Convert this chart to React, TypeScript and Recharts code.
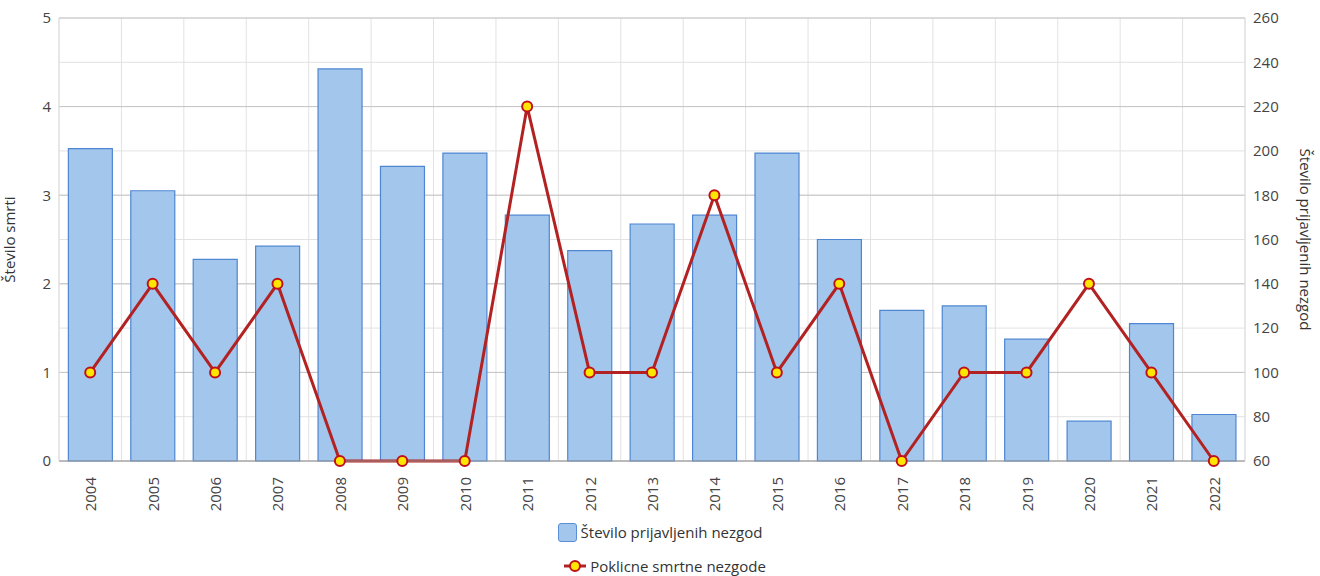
import React from 'react';
import {
  ComposedChart,
  Bar,
  Line,
  XAxis,
  YAxis,
  CartesianGrid,
  Legend,
} from 'recharts';

const years = ['2004', '2005', '2006', '2007', '2008', '2009', '2010', '2011', '2012', '2013', '2014', '2015', '2016', '2017', '2018', '2019', '2020', '2021', '2022'];
const reported = [201, 182, 151, 157, 237, 193, 199, 171, 155, 167, 171, 199, 160, 128, 130, 115, 78, 122, 81];
const deaths = [1, 2, 1, 2, 0, 0, 0, 4, 1, 1, 3, 1, 2, 0, 1, 1, 2, 1, 0];
const leftTicks = [0, 1, 2, 3, 4, 5];
const rightTicks = [60, 80, 100, 120, 140, 160, 180, 200, 220, 240, 260];

const data = years.map((year, i) => ({ year, reported: reported[i], deaths: deaths[i] }));

const font = '"Open Sans", "Noto Sans", sans-serif';
const textColor = '#444';

const YearTick = (props: any) => {
  const { x, y, payload } = props;
  return (
    <text
      x={x}
      y={y + 8}
      transform={`rotate(-90, ${x}, ${y + 8})`}
      textAnchor="end"
      dominantBaseline="central"
      fontSize={15}
      fontFamily={font}
      fill={textColor}
    >
      {payload.value}
    </text>
  );
};

const LegendContent = () => (
  <div style={{ fontFamily: font, fontSize: 15, color: '#333', display: 'flex', flexDirection: 'column', alignItems: 'center' }}>
    <div style={{ display: 'flex', alignItems: 'center', height: 22, marginTop: 10 }}>
      <span style={{ display: 'inline-block', width: 19, height: 19, background: '#A3C6EC', border: '1px solid #5A8FD6', borderRadius: 3, marginRight: 4, boxSizing: 'border-box' }} />
      <span>Število prijavljenih nezgod</span>
    </div>
    <div style={{ display: 'flex', alignItems: 'center', height: 22, marginTop: 12, marginLeft: 10 }}>
      <svg width={22} height={14} style={{ marginRight: 4 }}>
        <line x1={0} y1={7} x2={22} y2={7} stroke="#B22222" strokeWidth={3} />
        <circle cx={11} cy={7} r={5} fill="#FFE600" stroke="#C0101A" strokeWidth={2} />
      </svg>
      <span>Poklicne smrtne nezgode</span>
    </div>
  </div>
);

const boundaryLines = ({ offset }: any) => {
  const n = years.length;
  const res: number[] = [];
  for (let i = 0; i <= n; i++) res.push(offset.left + (offset.width * i) / n);
  return res;
};

export default function App() {
  return (
    <div style={{ position: 'absolute', left: 0, top: 0, width: 1320, height: 576, background: '#fff' }}>
      <ComposedChart
        width={1320}
        height={576}
        data={data}
        margin={{ top: 18, right: 0, left: 0, bottom: 0 }}
        barCategoryGap="15%"
      >
        <CartesianGrid
          yAxisId="right"
          stroke="#e2e2e2"
          vertical={true}
          verticalCoordinatesGenerator={boundaryLines}
        />
        <CartesianGrid yAxisId="left" stroke="#c4c4c4" vertical={false} />
        <XAxis
          dataKey="year"
          height={50}
          interval={0}
          tick={<YearTick />}
          tickLine={false}
          axisLine={{ stroke: '#999' }}
        />
        <YAxis
          yAxisId="left"
          orientation="left"
          width={59}
          domain={[0, 5]}
          ticks={leftTicks}
          tickLine={false}
          axisLine={{ stroke: '#ddd' }}
          tick={{ fontSize: 15, fontFamily: font, fill: textColor }}
          label={{ value: 'Število smrti', angle: -90, position: 'insideLeft', offset: 10, style: { fontSize: 15, fontFamily: font, fill: '#333', textAnchor: 'middle' } }}
        />
        <YAxis
          yAxisId="right"
          orientation="right"
          width={75}
          domain={[60, 260]}
          ticks={rightTicks}
          tickLine={false}
          axisLine={{ stroke: '#ddd' }}
          tick={{ fontSize: 15, fontFamily: font, fill: textColor, textAnchor: 'start' }}
          label={{ value: 'Število prijavljenih nezgod', angle: 90, position: 'insideRight', offset: 15, style: { fontSize: 15, fontFamily: font, fill: '#333', textAnchor: 'middle' } }}
        />
        <Legend verticalAlign="bottom" height={65} content={<LegendContent />} />
        <Bar
          yAxisId="right"
          dataKey="reported"
          name="Število prijavljenih nezgod"
          fill="#A3C6EC"
          stroke="#4F86D1"
          strokeWidth={1.2}
          isAnimationActive={false}
        />
        <Line
          yAxisId="left"
          dataKey="deaths"
          name="Poklicne smrtne nezgode"
          type="linear"
          stroke="#B22222"
          strokeWidth={3}
          dot={{ r: 5, fill: '#FFE600', stroke: '#C0101A', strokeWidth: 2 }}
          isAnimationActive={false}
        />
      </ComposedChart>
    </div>
  );
}
